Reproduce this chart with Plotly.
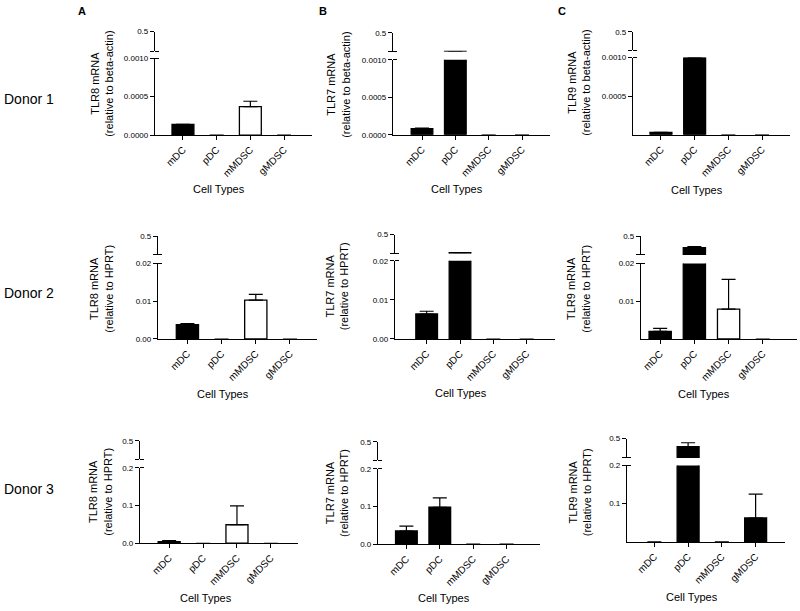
import plotly.graph_objects as go

W, H = 800, 611

cell_types = ["mDC", "pDC", "mMDSC", "gMDSC"]
bar_colors = ["black", "black", "white", "black"]

# Donor 1 (relative to beta-actin)
tlr8_d1 = [0.00014, 0, 0.00037, 0]
tlr8_d1_err = [None, None, 0.00007, None]
tlr7_d1 = [0.00008, 0.301, 0, 0]
tlr7_d1_err = [0.00001, None, None, None]
tlr9_d1 = [0.00003, 0.0010, 0, 0]
tlr9_d1_err = [None, None, None, None]

# Donor 2 (relative to HPRT)
tlr8_d2 = [0.0038, 0, 0.0103, 0]
tlr8_d2_err = [0.0003, None, 0.0015, None]
tlr7_d2 = [0.0064, 0.31, 0, 0]
tlr7_d2_err = [0.0007, None, None, None]
tlr9_d2 = [0.0020, 0.378, 0.0079, 0]
tlr9_d2_err = [0.0008, 0.010, 0.0079, None]

# Donor 3 (relative to HPRT)
tlr8_d3 = [0.004, 0, 0.049, 0]
tlr8_d3_err = [0.003, None, 0.050, None]
tlr7_d3 = [0.035, 0.098, 0, 0]
tlr7_d3_err = [0.013, 0.025, None, None]
tlr9_d3 = [0, 0.416, 0, 0.0626]
tlr9_d3_err = [None, 0.040, None, 0.0624]

upper_range = [0.3, 0.5]

# panel layout in pixels: x0, x1, lower (top, bottom), upper (top, bottom), x range
panels = [
    dict(vals=tlr8_d1, err=tlr8_d1_err, x=(155, 312), lo=(55, 133), up=(28, 48), xr=[-0.83, 3.83],
         ymax=0.001, ticks=[0, 0.0005, 0.001], fmt=".4f", title="TLR8 mRNA", ref="beta-actin",
         tpos=(102, 81), cpos=(219, 188)),
    dict(vals=tlr7_d1, err=tlr7_d1_err, x=(393, 550), lo=(56.7, 132.7), up=(29.3, 48.3), xr=[-0.87, 3.84],
         ymax=0.001, ticks=[0, 0.0005, 0.001], fmt=".4f", title="TLR7 mRNA", ref="beta-actin",
         tpos=(338, 82), cpos=(457, 188)),
    dict(vals=tlr9_d1, err=tlr9_d1_err, x=(633, 790), lo=(54.3, 132.7), up=(28.3, 46.7), xr=[-0.83, 3.83],
         ymax=0.001, ticks=[0.0005, 0.001], fmt=".4f", title="TLR9 mRNA", ref="beta-actin",
         tpos=(579, 80), cpos=(697, 189)),
    dict(vals=tlr8_d2, err=tlr8_d2_err, x=(158, 317), lo=(263.3, 340), up=(235.7, 254.3), xr=[-0.86, 3.79],
         ymax=0.02, ticks=[0, 0.01, 0.02], fmt=".2f", title="TLR8 mRNA", ref="HPRT",
         tpos=(101.5, 288.5), cpos=(222.5, 395.7)),
    dict(vals=tlr7_d2, err=tlr7_d2_err, x=(395, 555), lo=(260.7, 340), up=(234, 253.3), xr=[-0.95, 3.85],
         ymax=0.02, ticks=[0, 0.01, 0.02], fmt=".2f", title="TLR7 mRNA", ref="HPRT",
         tpos=(336.5, 287), cpos=(461, 395)),
    dict(vals=tlr9_d2, err=tlr9_d2_err, x=(641, 797), lo=(263.3, 340), up=(235.7, 254.7), xr=[-0.56, 4.0],
         ymax=0.02, ticks=[0.01, 0.02], fmt=".2f", title="TLR9 mRNA", ref="HPRT",
         tpos=(578, 289), cpos=(703.5, 395.7)),
    dict(vals=tlr8_d3, err=tlr8_d3_err, x=(140, 298), lo=(470.7, 547.3), up=(443.3, 462.3), xr=[-0.86, 3.8],
         ymax=0.2, ticks=[0, 0.1, 0.2], fmt=".1f", title="TLR8 mRNA", ref="HPRT",
         tpos=(100, 495), cpos=(206, 603)),
    dict(vals=tlr7_d3, err=tlr7_d3_err, x=(378, 540), lo=(471.7, 548.3), up=(444.3, 463.3), xr=[-0.85, 4.0],
         ymax=0.2, ticks=[0, 0.1, 0.2], fmt=".1f", title="TLR7 mRNA", ref="HPRT",
         tpos=(337.5, 496.7), cpos=(444, 602.5)),
    dict(vals=tlr9_d3, err=tlr9_d3_err, x=(627, 785), lo=(468.3, 546), up=(441, 460.7), xr=[-0.81, 3.87],
         ymax=0.2, ticks=[0.1, 0.2], fmt=".1f", title="TLR9 mRNA", ref="HPRT",
         tpos=(580, 495.5), cpos=(692, 601.5)),
]

FONT = "Arial, Liberation Sans, sans-serif"


def px_x(v):
    return v / W


def px_y(v):
    return 1 - v / H


fig = go.Figure()
layout = dict(
    width=W, height=H, margin=dict(l=0, r=0, t=0, b=0),
    paper_bgcolor="white", plot_bgcolor="white", showlegend=False,
    font=dict(family=FONT, color="black"),
)
annotations = []

for i, p in enumerate(panels):
    n = i + 1
    xa = "x" if n == 1 else f"x{n}"
    ylo_id = 2 * i + 1
    yup_id = 2 * i + 2
    ylo = "y" if ylo_id == 1 else f"y{ylo_id}"
    yup = f"y{yup_id}"
    # no outline on empty (zero) bars, only upward error bars where there is one
    line_w = [0 if v == 0 else 1.3 for v in p["vals"]]
    err_up = [e if e is not None else float("nan") for e in p["err"]]
    err_dn = [0 if e is not None else float("nan") for e in p["err"]]

    for ya in (ylo, yup):
        fig.add_trace(go.Bar(
            x=cell_types, y=p["vals"], xaxis=xa, yaxis=ya, width=0.65,
            marker=dict(color=bar_colors, line=dict(color="black", width=line_w)),
            error_y=dict(type="data", symmetric=False, array=err_up, arrayminus=err_dn,
                         color="black", thickness=1.2, width=7),
            hoverinfo="skip",
        ))

    xkey = "xaxis" if n == 1 else f"xaxis{n}"
    layout[xkey] = dict(
        domain=[px_x(p["x"][0]), px_x(p["x"][1])], anchor=ylo, range=p["xr"],
        showline=True, linecolor="black", linewidth=1.3, ticks="outside", ticklen=4,
        tickcolor="black", tickwidth=1.2, tickangle=-45, showgrid=False, zeroline=False,
        tickfont=dict(size=10, color="black"), fixedrange=True,
    )
    layout["yaxis" if ylo_id == 1 else f"yaxis{ylo_id}"] = dict(
        domain=[px_y(p["lo"][1]), px_y(p["lo"][0])], anchor=xa, range=[0, p["ymax"]],
        showline=True, linecolor="black", linewidth=1.3, ticks="outside", ticklen=4,
        tickcolor="black", tickwidth=1.2, tickmode="array", tickvals=p["ticks"],
        tickformat=p["fmt"], showgrid=False, zeroline=False,
        tickfont=dict(size=8, color="black"), fixedrange=True,
        minor=dict(ticks="inside", tickmode="array", tickvals=[p["ymax"] * 0.99999],
                   ticklen=4, tickcolor="black", tickwidth=1.2),
    )
    layout[f"yaxis{yup_id}"] = dict(
        domain=[px_y(p["up"][1]), px_y(p["up"][0])], anchor=xa, range=upper_range,
        showline=True, linecolor="black", linewidth=1.3, ticks="outside", ticklen=4,
        tickcolor="black", tickwidth=1.2, tickmode="array", tickvals=upper_range,
        ticktext=["", "0.5"], showgrid=False, zeroline=False,
        tickfont=dict(size=8, color="black"), fixedrange=True,
        minor=dict(ticks="inside", tickmode="array", tickvals=[upper_range[0] + 1e-6],
                   ticklen=4, tickcolor="black", tickwidth=1.2),
    )

    annotations.append(dict(
        text=f"{p['title']}<br>(relative to {p['ref']})", textangle=-90,
        x=px_x(p["tpos"][0]), y=px_y(p["tpos"][1]), xref="paper", yref="paper",
        showarrow=False, font=dict(size=11, color="black"), xanchor="center", yanchor="middle",
    ))
    annotations.append(dict(
        text="Cell Types", x=px_x(p["cpos"][0]), y=px_y(p["cpos"][1]), xref="paper", yref="paper",
        showarrow=False, font=dict(size=11, color="black"), xanchor="center", yanchor="middle",
    ))

for label, y in [("Donor 1", 96), ("Donor 2", 293), ("Donor 3", 492)]:
    annotations.append(dict(
        text=label, x=px_x(2), y=px_y(y), xref="paper", yref="paper", showarrow=False,
        font=dict(size=14, color="black"), xanchor="left", yanchor="middle",
    ))

for label, x in [("A", 82), ("B", 323), ("C", 562)]:
    annotations.append(dict(
        text=f"<b>{label}</b>", x=px_x(x), y=px_y(7), xref="paper", yref="paper", showarrow=False,
        font=dict(size=11, color="black"), xanchor="center", yanchor="middle",
    ))

layout["annotations"] = annotations
fig.update_layout(**layout)

# page body has a default 8px margin; remove it so the figure sits at the window origin
fig.write_html("out.html", config={"displayModeBar": False},
               post_script="document.body.style.margin='0';")
